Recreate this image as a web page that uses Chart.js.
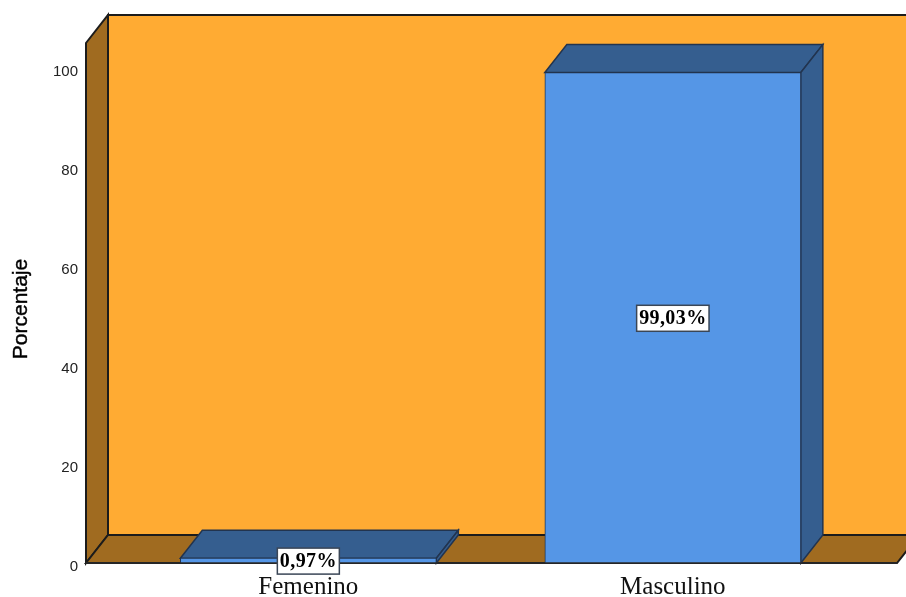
<!DOCTYPE html>
<html>
<head>
<meta charset="utf-8">
<title>Porcentaje por sexo</title>
<script src="https://cdn.jsdelivr.net/npm/chart.js@4"></script>
<style>
body { margin: 0; background: #fff; }
canvas { display: block; }
</style>
</head>
<body>
<canvas id="grafico" width="906" height="597"></canvas>
<script>
var categorias = ['Femenino', 'Masculino'];
var porcentajes = [0.97, 99.03];
var marcasY = [0, 20, 40, 60, 80, 100];
var tituloY = 'Porcentaje';

// depth of the fake 3D box, in pixels
var fondoX = 22;
var fondoY = 28;

function poligono(ctx, puntos, relleno, linea, grosor) {
    ctx.beginPath();
    ctx.moveTo(puntos[0][0], puntos[0][1]);
    for (var i = 1; i < puntos.length; i++) {
        ctx.lineTo(puntos[i][0], puntos[i][1]);
    }
    ctx.closePath();
    ctx.fillStyle = relleno;
    ctx.fill();
    ctx.lineWidth = grosor;
    ctx.strokeStyle = linea;
    ctx.stroke();
}

function textoValor(v) {
    return v.toFixed(2).replace('.', ',') + '%';
}

var caja3d = {
    id: 'caja3d',
    beforeDatasetsDraw: function (chart) {
        var ctx = chart.ctx;
        var a = chart.chartArea;
        ctx.save();
        // back wall, left wall, floor
        poligono(ctx, [[a.left + fondoX, a.top - fondoY], [a.right + fondoX, a.top - fondoY],
            [a.right + fondoX, a.bottom - fondoY], [a.left + fondoX, a.bottom - fondoY]], '#ffab33', '#1c1c1c', 2);
        poligono(ctx, [[a.left, a.top], [a.left + fondoX, a.top - fondoY],
            [a.left + fondoX, a.bottom - fondoY], [a.left, a.bottom]], '#a06b20', '#1c1c1c', 2);
        poligono(ctx, [[a.left, a.bottom], [a.left + fondoX, a.bottom - fondoY],
            [a.right + fondoX, a.bottom - fondoY], [a.right, a.bottom]], '#a06b20', '#1c1c1c', 2);

        // top and right faces of each bar
        chart.getDatasetMeta(0).data.forEach(function (barra) {
            var p = barra.getProps(['x', 'y', 'base', 'width'], true);
            var izq = p.x - p.width / 2;
            var der = p.x + p.width / 2;
            poligono(ctx, [[izq, p.y], [izq + fondoX, p.y - fondoY], [der + fondoX, p.y - fondoY], [der, p.y]], '#355e8f', '#22344f', 1.5);
            poligono(ctx, [[der, p.y], [der + fondoX, p.y - fondoY], [der + fondoX, p.base - fondoY], [der, p.base]], '#355e8f', '#22344f', 1.5);
        });
        ctx.restore();
    },
    afterDraw: function (chart) {
        var ctx = chart.ctx;
        var a = chart.chartArea;
        ctx.save();

        // base line of the box
        ctx.beginPath();
        ctx.moveTo(a.left, a.bottom);
        ctx.lineTo(a.right, a.bottom);
        ctx.lineWidth = 1.5;
        ctx.strokeStyle = '#2a2a2a';
        ctx.stroke();

        // value boxes, centred on each bar
        ctx.font = 'bold 20px "Liberation Serif"';
        ctx.letterSpacing = '0.4px';
        ctx.textAlign = 'center';
        ctx.textBaseline = 'middle';
        chart.getDatasetMeta(0).data.forEach(function (barra, i) {
            var p = barra.getProps(['x', 'y', 'base'], true);
            var texto = textoValor(porcentajes[i]);
            var ancho = ctx.measureText(texto).width + 5;
            var centro = (p.y + p.base) / 2 + 0.5;
            ctx.fillStyle = '#fff';
            ctx.fillRect(p.x - ancho / 2, centro - 13, ancho, 26);
            ctx.lineWidth = 1.5;
            ctx.strokeStyle = '#3a4656';
            ctx.strokeRect(p.x - ancho / 2, centro - 13, ancho, 26);
            ctx.fillStyle = '#000';
            ctx.fillText(texto, p.x, centro + 1);
        });

        // y axis title sits a little below the middle of the axis
        ctx.letterSpacing = '0px';
        ctx.translate(21, (a.top + a.bottom) / 2 + 6);
        ctx.rotate(-Math.PI / 2);
        ctx.font = '21px "Liberation Sans"';
        ctx.fillStyle = '#000';
        ctx.fillText(tituloY, 0, 0);
        ctx.strokeStyle = '#000';
        ctx.lineWidth = 0.4;
        ctx.strokeText(tituloY, 0, 0);
        ctx.restore();
    }
};

var ctx = document.getElementById('grafico').getContext('2d');
new Chart(ctx, {
    type: 'bar',
    data: {
        datasets: [{
            label: tituloY,
            data: porcentajes.map(function (v, i) { return { x: i, y: v }; }),
            backgroundColor: '#5596e6',
            borderColor: '#22344f',
            borderWidth: 1,
            barThickness: 256
        }]
    },
    options: {
        responsive: false,
        animation: false,
        layout: { padding: { top: 43, right: 9 } },
        plugins: {
            legend: { display: false },
            tooltip: { enabled: false }
        },
        scales: {
            x: {
                type: 'linear',
                offset: false,
                min: -0.61,
                max: 1.615,
                grid: { display: false },
                border: { display: false },
                afterBuildTicks: function (scale) {
                    scale.ticks = categorias.map(function (c, i) { return { value: i }; });
                },
                afterFit: function (scale) { scale.height = 34; },
                ticks: {
                    autoSkip: false,
                    maxRotation: 0,
                    padding: 1,
                    color: '#111',
                    font: { family: '"Liberation Serif"', size: 25 },
                    callback: function (v) { return categorias[v]; }
                }
            },
            y: {
                min: 0,
                max: 105,
                grid: { display: false },
                border: { display: false },
                afterBuildTicks: function (scale) {
                    scale.ticks = marcasY.map(function (v) { return { value: v }; });
                },
                afterFit: function (scale) { scale.width = 86; },
                ticks: {
                    padding: 0,
                    labelOffset: 4,
                    color: '#222',
                    font: { family: '"Liberation Sans"', size: 15 }
                }
            }
        }
    },
    plugins: [caja3d]
});
</script>
</body>
</html>
